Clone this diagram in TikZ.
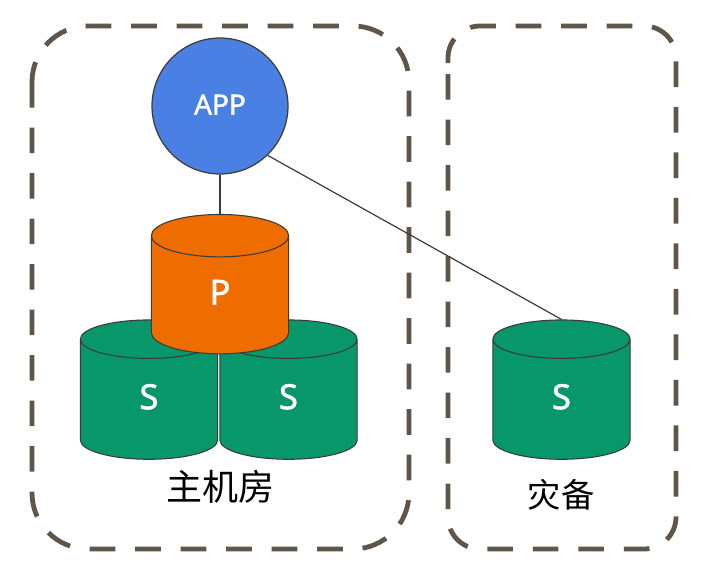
\documentclass[tikz,border=0pt]{standalone}
\usepackage{fontspec}
\setmainfont[FakeBold=1.5]{Noto Sans}
\newfontfamily\cjk{Noto Sans CJK SC}
\usetikzlibrary{shapes.geometric}
\definecolor{appblue}{HTML}{4A80E4}
\definecolor{dborange}{HTML}{EE6C00}
\definecolor{dbgreen}{HTML}{08966B}
\definecolor{framegray}{HTML}{5F5548}
\definecolor{edgegray}{HTML}{3C3C34}
\tikzset{
  dbnode/.style={cylinder, shape border rotate=90, aspect=2.02, draw=edgegray, line width=0.8pt,
    minimum width=103pt, minimum height=104.5pt, inner sep=0pt, text height=19pt, text depth=4.5pt,
    text=white, font=\fontsize{26}{26}\selectfont},
  roomframe/.style={draw=framegray, line width=3.6pt, dash pattern=on 19.3pt off 14.825pt},
  roomlabel/.style={font=\cjk\fontsize{25}{25}\selectfont, text=black},
  link/.style={draw=edgegray, line width=0.9pt}
}

\begin{document}
\begin{tikzpicture}[x=0.75pt, y=-0.75pt]
      \useasboundingbox (0,0) rectangle (722,582);
      \fill[white] (0,0) rectangle (722,582);
      \draw[roomframe, rounded corners=42pt] (32,82) -- (32,549) -- (409,549) -- (409,26) -- (32,26) -- (32,82);
      \draw[roomframe, rounded corners=24pt] (448,74) -- (448,549) -- (676,549) -- (676,26) -- (448,26) -- (448,74);
      \node[circle, draw=edgegray, line width=0.9pt, fill=appblue, minimum size=102pt, inner sep=0pt,
        text height=15pt, text depth=2pt, text=white, font=\fontsize{21}{21}\selectfont] (app) at (220,106) {APP};
      \node[dbnode, fill=dbgreen] (s1) at (149,399.5) {S};
      \node[dbnode, fill=dbgreen] (s2) at (288.5,399.5) {S};
      \node[dbnode, fill=dborange] (p) at (220,295) {P};
      \node[dbnode, fill=dbgreen] (s3) at (561.5,399.5) {S};
      \node[roomlabel, font=\cjk\fontsize{27}{27}\selectfont] (mainroom) at (220,487) {主机房};
      \node[roomlabel] (backup) at (561,495) {灾备};
      \draw[link] (app) -- (p.north);
      \draw[link] (app.-46) -- (s3.north);
    \end{tikzpicture}
\end{document}
